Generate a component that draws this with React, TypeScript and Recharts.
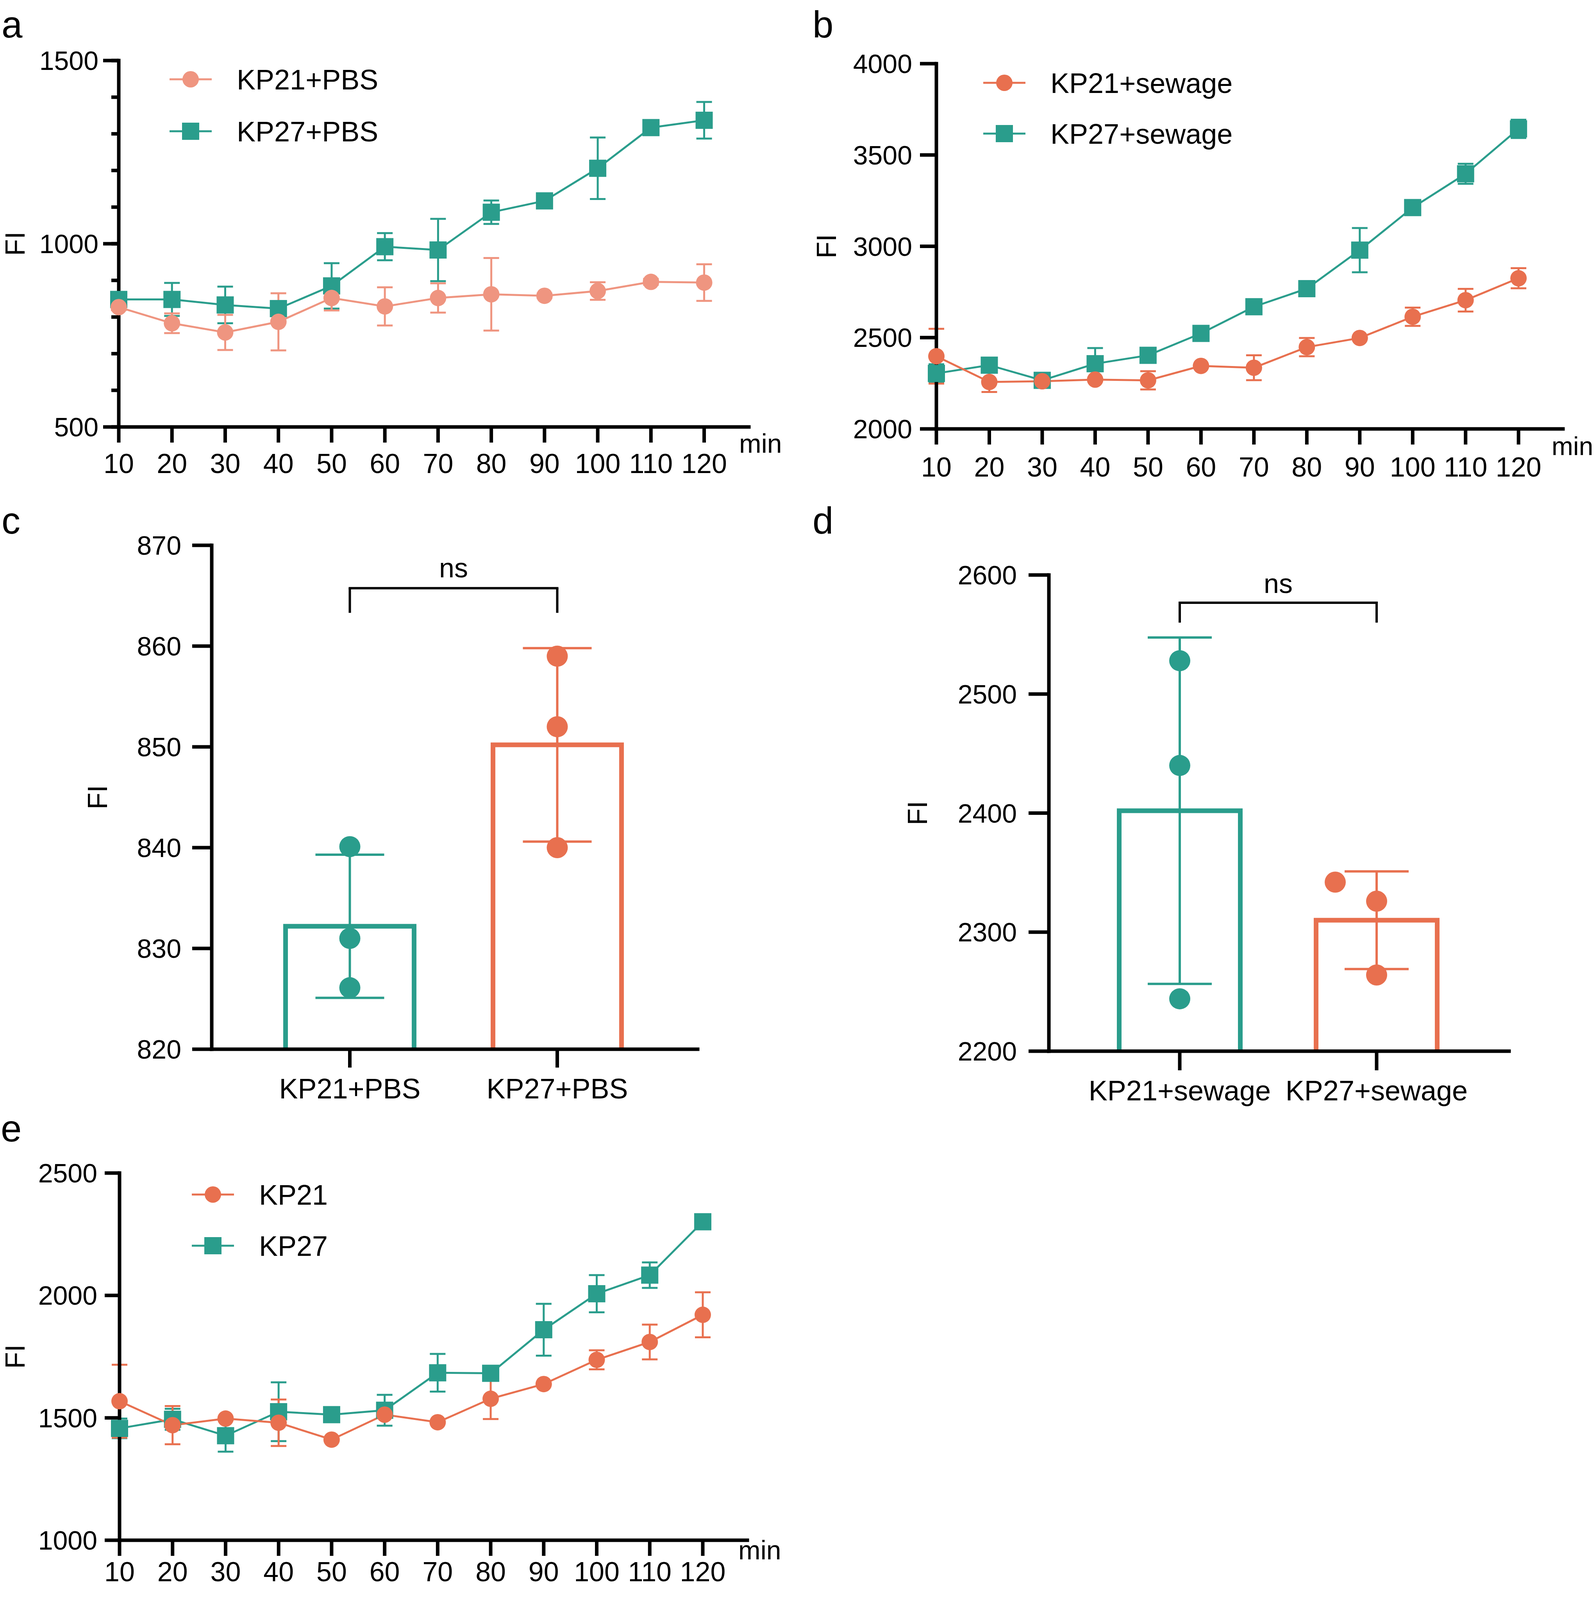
import React from "react";
import {
  LineChart,
  ComposedChart,
  Line,
  Bar,
  XAxis,
  YAxis,
  ErrorBar,
  ReferenceLine,
  Label,
} from "recharts";

const TEAL = "#2a9d8c";
const ORANGE = "#e8704f";
const SALMON = "#ef9580";
const FONT = "'Liberation Sans', Arial, Helvetica, sans-serif";

// the photographed area is only about 4080px tall, so vertical layout is squeezed to fit it
const SY = 4062 / 4337;
const sy = (v: number) => Math.round(v * SY);

// time axis shared by a, b and e
const minutes = [10, 20, 30, 40, 50, 60, 70, 80, 90, 100, 110, 120];

// a: PBS
const kp21Pbs = [827, 783, 758, 787, 852, 829, 852, 862, 858, 871, 896, 894];
const kp21PbsSd = [8, 27, 48, 78, 34, 52, 40, 99, 6, 24, 8, 50];
const kp27Pbs = [848, 848, 833, 823, 885, 992, 983, 1086, 1117, 1206, 1317, 1337];
const kp27PbsSd = [0, 45, 50, 15, 62, 37, 85, 32, 8, 84, 8, 50];
const pbsYTicks = [500, 600, 700, 800, 900, 1000, 1100, 1200, 1300, 1400, 1500];

// b: sewage
const kp21Sew = [2398, 2257, 2261, 2270, 2266, 2345, 2335, 2448, 2498, 2614, 2705, 2825];
const kp21SewSd = [150, 55, 0, 0, 50, 0, 68, 50, 0, 50, 62, 55];
const kp27Sew = [2304, 2349, 2266, 2357, 2403, 2523, 2669, 2768, 2979, 3212, 3397, 3643];
const kp27SewSd = [50, 0, 0, 86, 0, 0, 0, 0, 121, 0, 55, 50];
const sewYTicks = [2000, 2500, 3000, 3500, 4000];

// e: strains alone
const kp21 = [1568, 1470, 1497, 1480, 1411, 1513, 1482, 1578, 1638, 1737, 1810, 1921];
const kp21Sd = [149, 78, 0, 95, 0, 0, 0, 83, 0, 39, 71, 92];
const kp27 = [1457, 1494, 1427, 1525, 1513, 1531, 1684, 1682, 1860, 2007, 2083, 2301];
const kp27Sd = [40, 43, 65, 120, 0, 63, 77, 0, 106, 76, 52, 0];
const baseYTicks = [1000, 1500, 2000, 2500];

// c: PBS at one time point, bar = mean, points = replicates
const pbsGroups = ["KP21+PBS", "KP27+PBS"];
const pbsMeans = [832.2, 850.2];
const pbsSds = [7.1, 9.6];
const pbsReps = [
  [840.1, 831.0, 826.1],
  [859.0, 852.0, 840.0],
];
const pbsBarTicks = [820, 830, 840, 850, 860, 870];

// d: sewage at one time point
const sewGroups = ["KP21+sewage", "KP27+sewage"];
const sewMeans = [2402, 2310];
const sewSds = [145.5, 41];
const sewReps = [
  [2528, 2440, 2244],
  [2342, 2326, 2264],
];
const sewBarTicks = [2200, 2300, 2400, 2500, 2600];

const timeRows = (a: number[], aSd: number[], b: number[], bSd: number[]) =>
  minutes.map((t, i) => ({ t, kp21: a[i], kp21Sd: aSd[i], kp27: b[i], kp27Sd: bSd[i] }));

const groupRows = (groups: string[], means: number[], sds: number[], reps: number[][]) =>
  groups.map((name, i) => ({
    name,
    mean: means[i],
    sd0: i === 0 ? sds[i] : undefined,
    sd1: i === 1 ? sds[i] : undefined,
    r1: reps[i][0],
    r2: reps[i][1],
    r3: reps[i][2],
  }));

const axisStyle = { stroke: "#000", strokeWidth: 9, strokeLinecap: "square" as const };
const tickLineStyle = { stroke: "#000", strokeWidth: 9 };

const squareDot = (color: string) => (p: any) =>
  p.cx == null || p.cy == null ? (
    <g key={`sq-${p.index}`} />
  ) : (
    <rect key={`sq-${p.index}`} x={p.cx - 22} y={p.cy - 22} width={44} height={44} fill={color} />
  );

const circleDot = (color: string, r: number) => (p: any) =>
  p.cx == null || p.cy == null ? (
    <g key={`ci-${p.index}`} />
  ) : (
    <circle key={`ci-${p.index}`} cx={p.cx} cy={p.cy} r={r} fill={color} />
  );

// panel a has minor ticks every 100 and labels only every 500
const pbsYTick = (p: any) => {
  const v = p.payload.value;
  const axisX = p.x + 19;
  if (v % 500 !== 0) return <g />;
  return (
    <g>
      <line x1={axisX - 40} x2={axisX} y1={p.y} y2={p.y} stroke="#000" strokeWidth={9} />
      <text x={axisX - 52} y={p.y} dy="0.355em" textAnchor="end" fontSize={68} fill="#000">
        {v}
      </text>
    </g>
  );
};

const openBar = (colors: string[]) => (p: any) => {
  const { x, y, width, height, index } = p;
  return (
    <path
      d={`M${x},${y + height}V${y}H${x + width}V${y + height}`}
      fill="none"
      stroke={colors[index]}
      strokeWidth={12}
    />
  );
};

const repDot = (colors: string[], shift: number[] = [0, 0]) => (p: any) =>
  p.cx == null || p.cy == null ? (
    <g key={`r-${p.index}`} />
  ) : (
    <circle key={`r-${p.index}`} cx={p.cx + shift[p.index]} cy={p.cy} r={27} fill={colors[p.index]} />
  );

const fiLabel = (offset: number) => ({
  value: "FI",
  angle: -90,
  position: "insideLeft" as const,
  offset,
  style: { textAnchor: "middle" as const, fontSize: 70, fill: "#000" },
});

interface TimeProps {
  left: number;
  top: number;
  width: number;
  height: number;
  plotTop: number;
  plotRight: number;
  yAxisWidth: number;
  xAxisHeight: number;
  xTickMargin: number;
  yDomain: [number, number];
  yTicks: number[];
  yTickSize: number;
  yTickMargin: number;
  fiOffset: number;
  rows: any[];
  kp21Color: string;
  kp21Name: string;
  kp27Name: string;
  yTick?: any;
}

function TimeCourse(props: TimeProps) {
  const { rows, kp21Color } = props;
  return (
    <div style={{ position: "absolute", left: props.left, top: sy(props.top) }}>
      <LineChart
        width={props.width}
        height={sy(props.height)}
        data={rows}
        margin={{ top: sy(props.plotTop), right: props.plotRight, bottom: 0, left: 0 }}
      >
        <XAxis
          dataKey="t"
          type="number"
          domain={[10, 128.4]}
          ticks={minutes}
          height={sy(props.xAxisHeight)}
          axisLine={axisStyle}
          tickLine={tickLineStyle}
          tickSize={sy(43)}
          tickMargin={sy(props.xTickMargin)}
          tick={{ fontSize: 70, fill: "#000" }}
          interval={0}
        />
        <YAxis
          type="number"
          domain={props.yDomain}
          ticks={props.yTicks}
          width={props.yAxisWidth}
          axisLine={axisStyle}
          tickLine={tickLineStyle}
          tickSize={props.yTick ? 19 : props.yTickSize}
          tickMargin={props.yTick ? 0 : props.yTickMargin}
          tick={props.yTick ?? { fontSize: 68, fill: "#000" }}
          interval={0}
          label={fiLabel(props.fiOffset)}
        />
        <Line
          dataKey="kp27"
          name={props.kp27Name}
          stroke={TEAL}
          strokeWidth={5}
          dot={squareDot(TEAL)}
          activeDot={false}
          isAnimationActive={false}
        >
          <ErrorBar dataKey="kp27Sd" direction="y" width={20} stroke={TEAL} strokeWidth={5} isAnimationActive={false} />
        </Line>
        <Line
          dataKey="kp21"
          name={props.kp21Name}
          stroke={kp21Color}
          strokeWidth={5}
          dot={circleDot(kp21Color, 21)}
          activeDot={false}
          isAnimationActive={false}
        >
          <ErrorBar dataKey="kp21Sd" direction="y" width={20} stroke={kp21Color} strokeWidth={5} isAnimationActive={false} />
        </Line>
      </LineChart>
    </div>
  );
}

interface GroupProps {
  left: number;
  top: number;
  width: number;
  height: number;
  plotTop: number;
  plotRight: number;
  yAxisWidth: number;
  xAxisHeight: number;
  xPad: { left: number; right: number };
  yDomain: [number, number];
  yTicks: number[];
  tickSize: number;
  yTickMargin: number;
  xTickMargin: number;
  barSize: number;
  capWidth: number;
  fiOffset: number;
  rows: any[];
  bracketTop: number;
  bracketFoot: number;
  nsOffset: number;
  groups: string[];
  firstRepShift?: number[];
}

function GroupBars(props: GroupProps) {
  const colors = [TEAL, ORANGE];
  const [g0, g1] = props.groups;
  return (
    <div style={{ position: "absolute", left: props.left, top: sy(props.top) }}>
      <ComposedChart
        width={props.width}
        height={sy(props.height)}
        data={props.rows}
        margin={{ top: sy(props.plotTop), right: props.plotRight, bottom: 0, left: 0 }}
      >
        <XAxis
          dataKey="name"
          type="category"
          height={sy(props.xAxisHeight)}
          padding={props.xPad}
          axisLine={axisStyle}
          tickLine={tickLineStyle}
          tickSize={sy(props.tickSize)}
          tickMargin={sy(props.xTickMargin)}
          tick={{ fontSize: 72, fill: "#000" }}
          interval={0}
        />
        <YAxis
          type="number"
          domain={props.yDomain}
          ticks={props.yTicks}
          width={props.yAxisWidth}
          axisLine={axisStyle}
          tickLine={tickLineStyle}
          tickSize={props.tickSize}
          tickMargin={props.yTickMargin}
          tick={{ fontSize: 68, fill: "#000" }}
          interval={0}
          label={fiLabel(props.fiOffset)}
        />
        <Bar dataKey="mean" barSize={props.barSize} shape={openBar(colors)} isAnimationActive={false}>
          <ErrorBar dataKey="sd0" direction="y" width={props.capWidth} stroke={TEAL} strokeWidth={6} isAnimationActive={false} />
          <ErrorBar dataKey="sd1" direction="y" width={props.capWidth} stroke={ORANGE} strokeWidth={6} isAnimationActive={false} />
        </Bar>
        <Line dataKey="r1" stroke="none" dot={repDot(colors, props.firstRepShift)} activeDot={false} isAnimationActive={false} />
        <Line dataKey="r2" stroke="none" dot={repDot(colors)} activeDot={false} isAnimationActive={false} />
        <Line dataKey="r3" stroke="none" dot={repDot(colors)} activeDot={false} isAnimationActive={false} />
        <ReferenceLine
          segment={[{ x: g0, y: props.bracketFoot }, { x: g0, y: props.bracketTop }]}
          stroke="#000"
          strokeWidth={6}
          ifOverflow="visible"
        />
        <ReferenceLine
          segment={[{ x: g1, y: props.bracketFoot }, { x: g1, y: props.bracketTop }]}
          stroke="#000"
          strokeWidth={6}
          ifOverflow="visible"
        />
        <ReferenceLine
          segment={[{ x: g0, y: props.bracketTop }, { x: g1, y: props.bracketTop }]}
          stroke="#000"
          strokeWidth={6}
          strokeLinecap="square"
          ifOverflow="visible"
        >
          <Label value="ns" position="top" offset={sy(props.nsOffset)} fontSize={70} fill="#000" />
        </ReferenceLine>
      </ComposedChart>
    </div>
  );
}

function LegendRows({ x, y, gap, items }: { x: number; y: number; gap: number; items: { name: string; color: string; shape: string }[] }) {
  return (
    <g>
      {items.map((it, i) => {
        const cy = sy(y + i * gap);
        const cx = x + 54;
        return (
          <g key={it.name}>
            <line x1={x} x2={x + 108} y1={cy} y2={cy} stroke={it.color} strokeWidth={5} />
            {it.shape === "square" ? (
              <rect x={cx - 22} y={cy - 22} width={44} height={44} fill={it.color} />
            ) : (
              <circle cx={cx} cy={cy} r={21} fill={it.color} />
            )}
            <text x={x + 172} y={cy} dy="0.36em" fontSize={72} fill="#000">
              {it.name}
            </text>
          </g>
        );
      })}
    </g>
  );
}

export default function App() {
  return (
    <div
      style={{
        position: "absolute",
        left: 0,
        top: 0,
        width: 4083,
        height: 4337,
        background: "#fff",
        fontFamily: FONT,
        overflow: "hidden",
      }}
    >
      <TimeCourse
        left={0}
        top={0}
        width={2000}
        height={1320}
        plotTop={166}
        plotRight={83}
        yAxisWidth={304}
        xAxisHeight={153}
        xTickMargin={30}
        yDomain={[500, 1500]}
        yTicks={pbsYTicks}
        yTickSize={38}
        yTickMargin={14}
        yTick={pbsYTick}
        fiOffset={38}
        rows={timeRows(kp21Pbs, kp21PbsSd, kp27Pbs, kp27PbsSd)}
        kp21Color={SALMON}
        kp21Name="KP21+PBS"
        kp27Name="KP27+PBS"
      />
      <TimeCourse
        left={2050}
        top={0}
        width={2033}
        height={1320}
        plotTop={174}
        plotRight={82}
        yAxisWidth={347}
        xAxisHeight={147}
        xTickMargin={34}
        yDomain={[2000, 4000]}
        yTicks={sewYTicks}
        yTickSize={42}
        yTickMargin={20}
        fiOffset={65}
        rows={timeRows(kp21Sew, kp21SewSd, kp27Sew, kp27SewSd)}
        kp21Color={ORANGE}
        kp21Name="KP21+sewage"
        kp27Name="KP27+sewage"
      />
      <GroupBars
        left={0}
        top={1350}
        width={2000}
        height={1700}
        plotTop={141}
        plotRight={214}
        yAxisWidth={542}
        xAxisHeight={182}
        xPad={{ left: 88, right: 94 }}
        yDomain={[820, 870]}
        yTicks={pbsBarTicks}
        tickSize={50}
        yTickMargin={28}
        xTickMargin={30}
        barSize={329}
        capWidth={88}
        fiOffset={249}
        rows={groupRows(pbsGroups, pbsMeans, pbsSds, pbsReps)}
        bracketTop={865.75}
        bracketFoot={863.3}
        nsOffset={30}
        groups={pbsGroups}
      />
      <GroupBars
        left={2050}
        top={1350}
        width={2033}
        height={1700}
        plotTop={222}
        plotRight={220}
        yAxisWidth={635}
        xAxisHeight={176}
        xPad={{ left: 83, right: 87 }}
        yDomain={[2200, 2600]}
        yTicks={sewBarTicks}
        tickSize={52}
        yTickMargin={30}
        xTickMargin={28}
        barSize={310}
        capWidth={82}
        fiOffset={298}
        rows={groupRows(sewGroups, sewMeans, sewSds, sewReps)}
        bracketTop={2576.7}
        bracketFoot={2560}
        nsOffset={27}
        groups={sewGroups}
        firstRepShift={[0, -106]}
      />
      <TimeCourse
        left={0}
        top={3050}
        width={2000}
        height={1287}
        plotTop={156}
        plotRight={87}
        yAxisWidth={306}
        xAxisHeight={127}
        xTickMargin={16}
        yDomain={[1000, 2500]}
        yTicks={baseYTicks}
        yTickSize={38}
        yTickMargin={19}
        fiOffset={38}
        rows={timeRows(kp21, kp21Sd, kp27, kp27Sd)}
        kp21Color={ORANGE}
        kp21Name="KP21"
        kp27Name="KP27"
      />
      <svg
        width={4083}
        height={4337}
        style={{ position: "absolute", left: 0, top: 0, pointerEvents: "none" }}
        fontFamily={FONT}
      >
        <text x={4} y={96} fontSize={96}>a</text>
        <text x={2080} y={96} fontSize={96}>b</text>
        <text x={4} y={sy(1458)} fontSize={96}>c</text>
        <text x={2080} y={sy(1458)} fontSize={96}>d</text>
        <text x={2} y={sy(3120)} fontSize={96}>e</text>
        <text x={1892} y={sy(1237)} fontSize={68}>min</text>
        <text x={3972} y={sy(1244)} fontSize={66}>min</text>
        <text x={1890} y={sy(4262)} fontSize={68}>min</text>
        <LegendRows
          x={434}
          y={217}
          gap={142}
          items={[
            { name: "KP21+PBS", color: SALMON, shape: "circle" },
            { name: "KP27+PBS", color: TEAL, shape: "square" },
          ]}
        />
        <LegendRows
          x={2517}
          y={226}
          gap={139}
          items={[
            { name: "KP21+sewage", color: ORANGE, shape: "circle" },
            { name: "KP27+sewage", color: TEAL, shape: "square" },
          ]}
        />
        <LegendRows
          x={491}
          y={3265}
          gap={140}
          items={[
            { name: "KP21", color: ORANGE, shape: "circle" },
            { name: "KP27", color: TEAL, shape: "square" },
          ]}
        />
      </svg>
    </div>
  );
}
